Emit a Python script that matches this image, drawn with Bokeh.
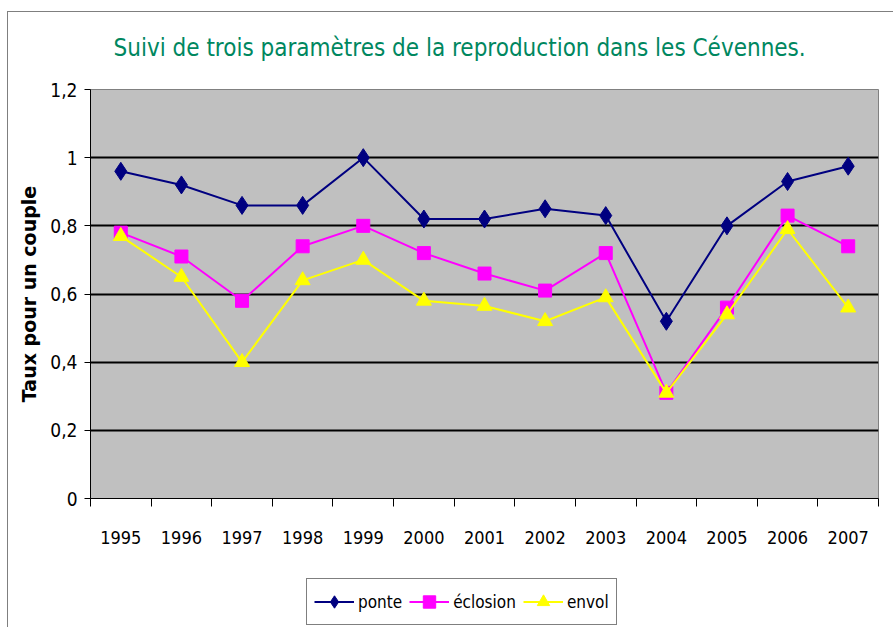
from bokeh.plotting import figure
from bokeh.models import FixedTicker, Legend, LegendItem, Range1d, InlineStyleSheet
from bokeh.layouts import column
from bokeh.embed import file_html
from bokeh.resources import INLINE

years = list(range(1995, 2008))
ponte = [0.96, 0.92, 0.86, 0.86, 1.00, 0.82, 0.82, 0.85, 0.83, 0.52, 0.80, 0.93, 0.975]
eclosion = [0.78, 0.71, 0.58, 0.74, 0.80, 0.72, 0.66, 0.61, 0.72, 0.31, 0.56, 0.83, 0.74]
envol = [0.77, 0.65, 0.40, 0.64, 0.70, 0.58, 0.565, 0.52, 0.59, 0.31, 0.54, 0.79, 0.56]
y_ticks = [0, 0.2, 0.4, 0.6, 0.8, 1.0, 1.2]
y_labels = ["0", "0,2", "0,4", "0,6", "0,8", "1", "1,2"]
grid_ticks = [0.2, 0.4, 0.6, 0.8, 1.0]
series = [
    ("ponte", ponte, "#000080", "diamond", 18),
    ("éclosion", eclosion, "#FF00FF", "square", 13),
    ("envol", envol, "#FFFF00", "triangle", 15),
]

NARROW = "DejaVu Sans Condensed"

p = figure(width=893, height=578, x_range=Range1d(1994.5, 2007.5), y_range=Range1d(0, 1.2),
           output_backend="svg", toolbar_location=None,
           min_border_left=90, min_border_right=15, min_border_top=89, min_border_bottom=80,
           title="Suivi de trois paramètres de la reproduction dans les Cévennes.")

p.title.text_font = NARROW
p.title.text_font_size = "24px"
p.title.text_font_style = "normal"
p.title.text_color = "#00875F"
p.title.align = "left"
p.title.offset = 23
p.title.standoff = 56

p.background_fill_color = "#C0C0C0"
p.border_fill_color = "white"
p.outline_line_color = "#808080"
p.outline_line_width = 1

# x axis
p.xaxis.ticker = FixedTicker(ticks=years, minor_ticks=[y - 0.5 for y in years] + [years[-1] + 0.5])
p.xaxis.major_tick_out = 0
p.xaxis.major_tick_in = 0
p.xaxis.minor_tick_out = 8
p.xaxis.minor_tick_in = 0
p.xaxis.minor_tick_line_color = "black"
p.xaxis.axis_line_color = "black"
p.xaxis.major_label_standoff = 24
p.xaxis.major_label_text_font = NARROW
p.xaxis.major_label_text_font_size = "18px"
p.xaxis.major_label_text_color = "black"
p.xgrid.visible = False

# y axis
p.yaxis.ticker = FixedTicker(ticks=y_ticks)
p.yaxis.major_label_overrides = {t: l for t, l in zip(y_ticks, y_labels)}
p.yaxis.major_tick_out = 6
p.yaxis.major_tick_in = 0
p.yaxis.minor_tick_line_color = None
p.yaxis.axis_line_color = "black"
p.yaxis.major_label_text_font = NARROW
p.yaxis.major_label_text_font_size = "19px"
p.yaxis.major_label_text_color = "black"
p.yaxis.major_label_standoff = 7
p.yaxis.axis_label = "Taux pour un couple"
p.yaxis.axis_label_text_font = "DejaVu Sans"
p.yaxis.axis_label_text_font_style = "bold"
p.yaxis.axis_label_text_font_size = "19px"
p.yaxis.axis_label_text_color = "black"
p.yaxis.axis_label_standoff = 7

p.ygrid.ticker = FixedTicker(ticks=grid_ticks)
p.ygrid.grid_line_color = "black"
p.ygrid.grid_line_width = 2

for name, vals, color, marker, size in series:
    p.line(years, vals, line_color=color, line_width=2)
    p.scatter(years, vals, marker=marker, size=size, fill_color=color, line_color=color)

# legend figure (own renderers, drawn outside its view so only the legend shows)
q = figure(width=893, height=49, x_range=Range1d(0, 1), y_range=Range1d(0, 1),
           output_backend="svg", toolbar_location=None,
           x_axis_location=None, y_axis_location=None,
           min_border_left=90, min_border_right=15, min_border_top=0, min_border_bottom=0)
q.grid.visible = False
q.outline_line_color = None
q.background_fill_color = "white"
q.border_fill_color = "white"

items = []
for name, vals, color, marker, size in series:
    lr = q.line(years, vals, line_color=color, line_width=2)
    mr = q.scatter(years, vals, marker=marker, size=size, fill_color=color, line_color=color)
    items.append(LegendItem(label=name, renderers=[lr, mr]))

legend = Legend(items=items, orientation="horizontal", location=(216, 2))
legend.border_line_color = "black"
legend.border_line_width = 1.5
legend.background_fill_color = "white"
legend.background_fill_alpha = 1
legend.label_text_font = NARROW
legend.label_text_font_size = "17px"
legend.label_text_color = "black"
legend.glyph_width = 40
legend.glyph_height = 31
legend.label_standoff = 4
legend.spacing = 7
legend.padding = 7
legend.margin = 0
q.add_layout(legend, "center")

layout = column(p, q, spacing=0)
layout.stylesheets = [InlineStyleSheet(css=(
    ":host::after{content:'';position:absolute;left:7px;top:11px;right:0;bottom:0;"
    "border-left:1px solid #7f7f7f;border-top:1px solid #7f7f7f;pointer-events:none;}"
))]
open("out.html", "w").write(file_html(layout, INLINE))
